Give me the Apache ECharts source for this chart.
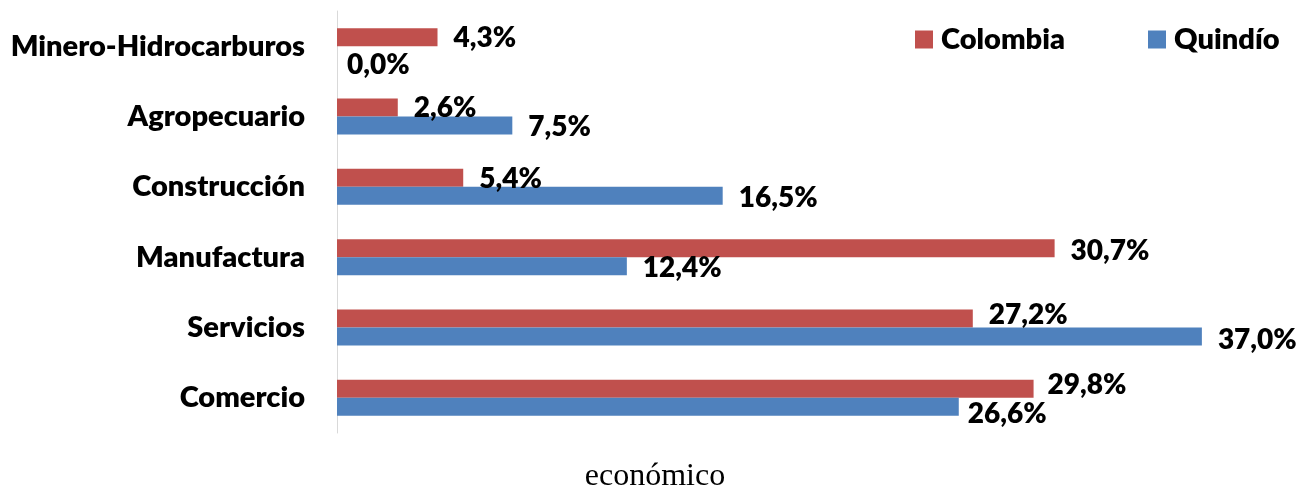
<!DOCTYPE html>
<html lang="es">
<head>
    <meta charset="UTF-8">
    <title>Sectores</title>
    <script src="https://cdn.jsdelivr.net/npm/echarts@6/dist/echarts.min.js"></script>
</head>
<body style="margin:0">
<div id="main" style="width: 1310px;height:489px;"></div>
<script type="text/javascript">
    // categorías (de arriba hacia abajo)
    var sectores = ["Minero-Hidrocarburos", "Agropecuario", "Construcción", "Manufactura", "Servicios", "Comercio"];
    // participación %
    var colombia = [4.3, 2.6, 5.4, 30.7, 27.2, 29.8];
    var quindio = [0.0, 7.5, 16.5, 12.4, 37.0, 26.6];

    // ajustes de posición de las etiquetas (como en el original)
    var desplazColombia = [[0, 1], [0, 0], [0, 1], [0, 3], [0, -4], [-2, -4]];
    var desplazQuindio = [[-6, 10], [0, 1], [0, 2], [0, 2], [0, 3], [-7, 7]];

    var fuente = "Lato, 'Open Sans', sans-serif";
    var peso = 800;

    function etiqueta(v) {
        return v.toFixed(1).replace(".", ",") + "%";
    }

    function datos(arr, desplaz) {
        return arr.map(function (v, i) {
            return {value: v, label: {offset: desplaz[i]}};
        });
    }

    var myChart = echarts.init(document.getElementById('main'));
    var labelComun = {
        show: true,
        position: "right",
        distance: 16,
        color: "#000",
        fontFamily: fuente,
        fontWeight: peso,
        fontSize: 28,
        formatter: function (p) {
            return etiqueta(p.value);
        }
    };

    myChart.setOption({
        animation: false,
        legend: {
            left: 910,
            top: 20,
            itemWidth: 18,
            itemHeight: 18,
            itemGap: 83,
            icon: "rect",
            textStyle: {
                fontFamily: fuente,
                fontWeight: peso,
                fontSize: 29,
                color: "#000",
                padding: [0, 0, 0, 3]
            },
            data: ["Colombia", "Quindío"]
        },
        grid: {
            left: 337,
            right: 38,
            top: 11,
            bottom: 56,
            containLabel: false,
            outerBoundsMode: "none"
        },
        xAxis: {
            type: "value",
            min: 0,
            max: 40,
            show: false
        },
        yAxis: {
            type: "category",
            inverse: true,
            data: sectores,
            axisLine: {lineStyle: {color: "#d9d9d9", width: 1}},
            axisTick: {show: false},
            axisLabel: {
                margin: 32,
                color: "#000",
                fontFamily: fuente,
                fontWeight: peso,
                fontSize: 29
            }
        },
        series: [
            {
                name: "Colombia",
                type: "bar",
                barWidth: 18,
                barGap: "0%",
                itemStyle: {color: "#C0504D"},
                label: labelComun,
                data: datos(colombia, desplazColombia)
            },
            {
                name: "Quindío",
                type: "bar",
                barWidth: 18,
                barGap: "0%",
                itemStyle: {color: "#4F81BD"},
                label: labelComun,
                data: datos(quindio, desplazQuindio)
            }
        ],
        graphic: [
            {
                type: "text",
                left: "center",
                top: 461,
                style: {
                    text: "económico",
                    fontFamily: "'Liberation Serif', serif",
                    fontSize: 32,
                    fill: "#000"
                }
            }
        ]
    });
</script>
</body>
</html>
